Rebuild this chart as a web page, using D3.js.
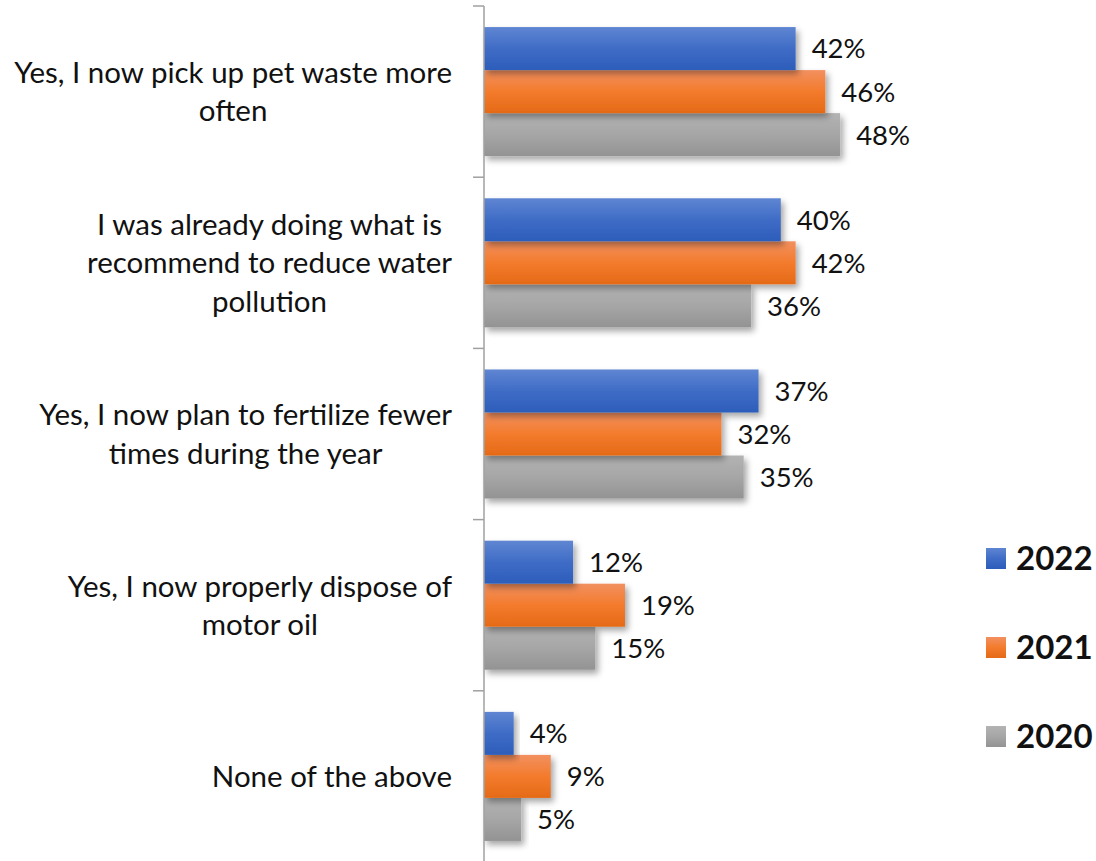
<!DOCTYPE html>
<html>
<head>
<meta charset="utf-8">
<script src="https://cdn.jsdelivr.net/npm/d3@7"></script>
<style>
  html, body { margin: 0; padding: 0; background: #fff; }
  svg { display: block; }
  text { font-family: Lato, "Open Sans", sans-serif; fill: #111; }
</style>
</head>
<body>
<svg id="chart" width="1096" height="861"></svg>
<script>
// Survey responses by year (percent)
const categories = [
  ["Yes, I now pick up pet waste more", "often"],
  ["I was already doing what is", "recommend to reduce water", "pollution"],
  ["Yes, I now plan to fertilize fewer", "times during the year"],
  ["Yes, I now properly dispose of", "motor oil"],
  ["None of the above"]
];
const seriesNames = ["2022", "2021", "2020"];
const values2022 = [42, 40, 37, 12, 4];
const values2021 = [46, 42, 32, 19, 9];
const values2020 = [48, 36, 35, 15, 5];
const seriesValues = [values2022, values2021, values2020];

const W = 1096, H = 861;
const svg = d3.select("#chart");

const axisX = 484;
const x = d3.scaleLinear().domain([0, 50]).range([axisX, axisX + 371]);
const y = d3.scaleBand().domain(d3.range(categories.length)).range([6, 862]);
const yInner = d3.scaleBand().domain(seriesNames).range([0, y.bandwidth()]).paddingOuter(0.49);

// gradients for the three series
const defs = svg.append("defs");
const palette = {
  "2022": ["#5F86D2", "#3F6CC6", "#2C5DBA"],
  "2021": ["#F29060", "#F37B2C", "#E56A17"],
  "2020": ["#B3B3B3", "#A6A6A6", "#939393"]
};
seriesNames.forEach(s => {
  const g = defs.append("linearGradient").attr("id", "grad" + s)
    .attr("x1", 0).attr("y1", 0).attr("x2", 0).attr("y2", 1);
  g.append("stop").attr("offset", "0%").attr("stop-color", palette[s][0]);
  g.append("stop").attr("offset", "50%").attr("stop-color", palette[s][1]);
  g.append("stop").attr("offset", "100%").attr("stop-color", palette[s][2]);
});
const shadow = defs.append("filter").attr("id", "shadow")
  .attr("x", "-10%").attr("y", "-20%").attr("width", "130%").attr("height", "160%");
shadow.append("feDropShadow").attr("dx", 3).attr("dy", 4).attr("stdDeviation", 3)
  .attr("flood-color", "#000").attr("flood-opacity", 0.35);

// bars
const groups = svg.append("g").selectAll("g")
  .data(categories.map((c, i) => i))
  .join("g")
  .attr("transform", i => `translate(0,${y(i)})`);

groups.each(function(ci) {
  const g = d3.select(this);
  // draw bottom series first so the shadows stack like the stacked bars
  seriesNames.slice().reverse().forEach(s => {
    const si = seriesNames.indexOf(s);
    const v = seriesValues[si][ci];
    g.append("rect")
      .attr("x", x(0))
      .attr("y", yInner(s))
      .attr("width", x(v) - x(0))
      .attr("height", yInner.bandwidth())
      .attr("fill", `url(#grad${s})`)
      .attr("filter", "url(#shadow)");
  });
  seriesNames.forEach((s, si) => {
    const v = seriesValues[si][ci];
    g.append("text")
      .attr("x", x(v) + 16)
      .attr("y", yInner(s) + yInner.bandwidth() / 2)
      .attr("dy", "0.36em")
      .attr("font-size", 27.5)
      .text(v + "%");
  });
});

// category axis
const axisG = svg.append("g");
axisG.append("line")
  .attr("x1", axisX).attr("x2", axisX)
  .attr("y1", y(0)).attr("y2", H)
  .attr("stroke", "#A0A0A0").attr("stroke-width", 1.5);
const tickYs = categories.map((c, i) => y(i)).concat([y(categories.length - 1) + y.step()]);
axisG.selectAll("line.tick").data(tickYs).join("line")
  .attr("class", "tick")
  .attr("x1", axisX - 11).attr("x2", axisX)
  .attr("y1", d => d).attr("y2", d => d)
  .attr("stroke", "#A0A0A0").attr("stroke-width", 1.5);

// category labels: centred lines, block right-aligned to the axis
const labelRight = 452;
const lineH = 38.5;
categories.forEach((lines, i) => {
  const cy = y(i) + y.bandwidth() / 2;
  const t = svg.append("text")
    .attr("font-size", 29.5)
    .attr("text-anchor", "middle");
  const spans = lines.map((ln, k) => t.append("tspan")
    .attr("y", cy + (k - (lines.length - 1) / 2) * lineH)
    .attr("dy", "0.36em")
    .text(ln));
  const maxW = d3.max(spans, sp => sp.node().getComputedTextLength());
  spans.forEach(sp => sp.attr("x", labelRight - maxW / 2));
});

// legend
const legend = svg.append("g");
seriesNames.forEach((s, i) => {
  const ly = 558 + i * 89;
  legend.append("rect")
    .attr("x", 986).attr("y", ly - 10)
    .attr("width", 20).attr("height", 21)
    .attr("fill", `url(#grad${s})`);
  legend.append("text")
    .attr("x", 1016).attr("y", ly)
    .attr("dy", "0.36em")
    .attr("font-size", 33)
    .attr("font-weight", "bold")
    .attr("fill", "#000")
    .text(s);
});
</script>
</body>
</html>
